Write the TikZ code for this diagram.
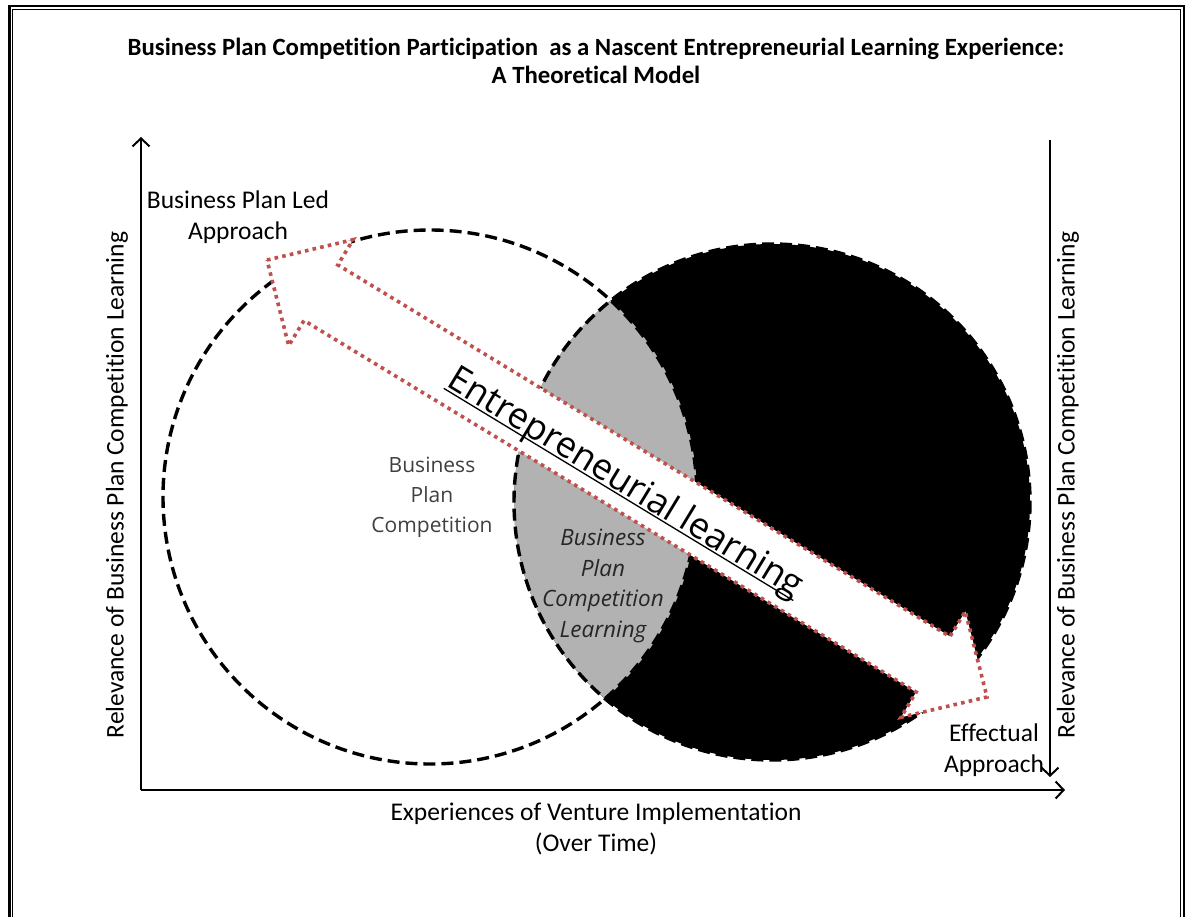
\documentclass[tikz,border=0pt]{standalone}
\usepackage{fontspec}
\setmainfont{Carlito}[Ligatures={NoCommon}]
\newfontfamily\osans{Open Sans}
\usetikzlibrary{arrows.meta}
\definecolor{lensgray}{RGB}{178,178,178}
\definecolor{dotred}{RGB}{192,80,77}
\definecolor{txtgray}{RGB}{64,64,64}
\newcommand\myul[1]{\sbox0{#1}\rlap{\rule[-3.5pt]{\wd0}{1.3pt}}\usebox0}
\begin{document}
\begin{tikzpicture}[x=1pt,y=-1pt,
  circdash/.style={line width=3.4pt,dash pattern=on 12pt off 6pt},
  axisline/.style={line width=2pt,-{Straight Barb[length=8pt,width=17pt,line width=2pt]}},
  lbl/.style={font=\fontsize{25.5}{30.5}\selectfont,align=center,inner sep=0pt},
  ttl/.style={font=\fontsize{24.8}{28}\selectfont\bfseries,align=center,inner sep=0pt},
  bigarrow/.style={fill=white,draw=dotred,line width=3.6pt,dash pattern=on 3.6pt off 4.2pt,line join=miter},
]
\useasboundingbox (0,0) rectangle (1190,917);
\fill[white] (0,0) rectangle (1190,917);
% frame
\draw[line width=2.6pt] (9.5,940) -- (9.5,6) -- (1184,6) -- (1184,940);
\draw[line width=0.9pt] (12.8,940) -- (12.8,9.8) -- (1180.8,9.8) -- (1180.8,940);

% title
\node[ttl] (title) at (596,61) {Business Plan Competition Participation\ \ as a Nascent Entrepreneurial Learning Experience:\\ A Theoretical Model};

% circles
\coordinate (cL) at (430,497);
\coordinate (cR) at (772,502);
\fill[black] (cR) circle[radius=258];
\begin{scope}
  \clip (cL) circle[radius=267];
  \fill[lensgray] (cR) circle[radius=258];
\end{scope}
\draw[circdash] (cL) circle[radius=267];
\draw[circdash] (cR) circle[radius=258];

% axes
\coordinate (origin) at (141,790);
\coordinate (ytop) at (141,137);
\coordinate (xend) at (1065,790);
\coordinate (rtop) at (1050,140);
\coordinate (rbot) at (1050,777);
\draw[axisline] (origin) -- (ytop);
\draw[axisline] (origin) -- (xend);
\draw[axisline] (rtop) -- (rbot);

% big double arrow
\coordinate (t1) at (267,260);
\coordinate (ub1) at (353.1,239.7);
\coordinate (us1) at (337.8,264.9);
\coordinate (us2) at (950.0,636.5);
\coordinate (ub2) at (965.3,611.3);
\coordinate (t2) at (987,697);
\coordinate (lb2) at (900.9,717.3);
\coordinate (ls2) at (916.2,692.1);
\coordinate (ls1) at (304.0,320.5);
\coordinate (lb1) at (288.7,345.7);
\draw[bigarrow] (t1) -- (ub1) -- (us1) -- (us2) -- (ub2) -- (t2) -- (lb2) -- (ls2) -- (ls1) -- (lb1) -- cycle;

\node[font=\osans\fontsize{36}{40}\selectfont,rotate=-31.26,anchor=base,inner sep=0pt] (el) at (620,492) {\myul{Entrepreneurial learning}};

% circle texts
\node[font=\osans\fontsize{21}{30}\selectfont,text=txtgray,align=center,inner sep=0pt] (bpc) at (432,497) {Business\\Plan\\Competition};
\node[font=\osans\itshape\fontsize{22.5}{30.5}\selectfont,text=black!85,align=center,inner sep=0pt] (bpcl) at (603,586) {Business\\Plan\\Competition\\Learning};

% corner labels
\node[lbl] (led) at (238,217) {Business Plan Led\\Approach};
\node[lbl] (eff) at (994,750) {Effectual\\Approach};

% axis labels
\node[lbl] (xlab) at (596,829) {Experiences of Venture Implementation\\(Over Time)};
\node[lbl,rotate=90] (ylab) at (117,485) {Relevance of Business Plan Competition Learning};
\node[lbl,rotate=90] (rlab) at (1068,485) {Relevance of Business Plan Competition Learning};
\end{tikzpicture}
\end{document}
